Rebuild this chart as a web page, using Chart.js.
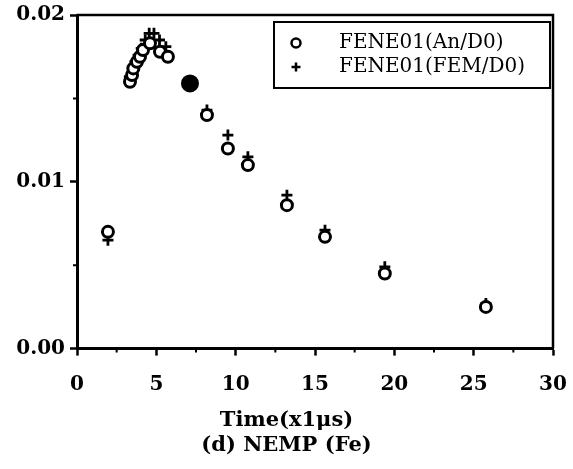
<!DOCTYPE html>
<html>
<head>
<meta charset="utf-8">
<script src="https://cdn.jsdelivr.net/npm/chart.js@4.4.0/dist/chart.umd.min.js"></script>
<style>
  html, body { margin: 0; padding: 0; background: #fff; }
  canvas { display: block; }
</style>
</head>
<body>
<canvas id="chart" width="573" height="469"></canvas>
<script>
// values
const anTime  = [1.95, 3.34, 3.47, 3.55, 3.78, 3.97, 4.16, 4.6, 5.23, 5.73, 7.12, 8.19, 9.51, 10.77, 13.23, 15.63, 19.4, 25.77];
const anValue = [0.0070, 0.0160, 0.0164, 0.0168, 0.0172, 0.0175, 0.0179, 0.0183, 0.0178, 0.0175, 0.0159, 0.0140, 0.0120, 0.0110, 0.0086, 0.0067, 0.0045, 0.0025];
const femTime  = [1.95, 3.3, 3.5, 3.65, 3.85, 4.05, 4.3, 4.55, 4.85, 5.2, 5.6, 7.12, 8.19, 9.51, 10.77, 13.23, 15.63, 19.4, 25.77];
const femValue = [0.0065, 0.0163, 0.0168, 0.0172, 0.0176, 0.0180, 0.0185, 0.0189, 0.0189, 0.0185, 0.0181, 0.0159, 0.0143, 0.0128, 0.0115, 0.0092, 0.0071, 0.0049, 0.0027];
const seriesLabels = ['FENE01(An/D0)', 'FENE01(FEM/D0)'];
const filledIndex = 10; // the one An point printed solid
const xTicks = [0, 5, 10, 15, 20, 25, 30];
const yTicks = [0, 0.01, 0.02];
const xMinor = [2.5, 7.5, 12.5, 17.5, 22.5, 27.5];
const yMinor = [0.005, 0.015];
const captionLines = ['Time(x1\u03bcs)', '(d) NEMP (Fe)'];

const serif = "'DejaVu Serif', serif";

const framePlugin = {
  id: 'frame',
  afterDraw(chart) {
    const { ctx, chartArea: a, scales: { x, y } } = chart;
    ctx.save();
    ctx.strokeStyle = '#000';
    ctx.lineWidth = 2.5;
    ctx.beginPath();
    ctx.moveTo(a.left, a.top);
    ctx.lineTo(a.right, a.top);
    ctx.lineTo(a.right, a.bottom);
    ctx.stroke();

    // minor ticks
    ctx.lineWidth = 2;
    ctx.beginPath();
    xMinor.forEach(v => {
      const px = x.getPixelForValue(v);
      ctx.moveTo(px, a.bottom);
      ctx.lineTo(px, a.bottom + 4);
    });
    yMinor.forEach(v => {
      const py = y.getPixelForValue(v);
      ctx.moveTo(a.left, py);
      ctx.lineTo(a.left - 4, py);
    });
    ctx.stroke();

    // legend box inside the plot
    const bx = a.right - 279, by = a.top + 7, bw = 276, bh = 66;
    ctx.lineWidth = 2;
    ctx.strokeRect(bx, by, bw, bh);
    const rows = [by + 21, by + 45];
    const sx = bx + 22;
    ctx.lineWidth = 2.5;
    ctx.fillStyle = '#fff';
    ctx.beginPath();
    ctx.arc(sx, rows[0], 4.5, 0, Math.PI * 2);
    ctx.fill();
    ctx.stroke();
    ctx.beginPath();
    ctx.moveTo(sx - 4.5, rows[1]); ctx.lineTo(sx + 4.5, rows[1]);
    ctx.moveTo(sx, rows[1] - 4.5); ctx.lineTo(sx, rows[1] + 4.5);
    ctx.stroke();

    ctx.fillStyle = '#000';
    ctx.font = '20px ' + serif;
    ctx.textBaseline = 'middle';
    ctx.textAlign = 'left';
    chart.data.datasets.forEach((ds, i) => {
      ctx.fillText(ds.label, bx + 65, rows[i]);
    });
    ctx.restore();
  }
};

const ctx = document.getElementById('chart').getContext('2d');
const chart = new Chart(ctx, {
  type: 'scatter',
  data: {
    datasets: [
      {
        label: seriesLabels[0],
        data: anTime.map((t, i) => ({ x: t, y: anValue[i] })),
        pointStyle: 'circle',
        pointRadius: c => (c.dataIndex === filledIndex ? 7.5 : 5.5),
        pointBackgroundColor: c => (c.dataIndex === filledIndex ? '#000' : '#fff'),
        pointBorderColor: '#000',
        pointBorderWidth: 3
      },
      {
        label: seriesLabels[1],
        data: femTime.map((t, i) => ({ x: t, y: femValue[i] })),
        pointStyle: 'cross',
        pointRadius: 5.5,
        pointBorderColor: '#000',
        pointBorderWidth: 2.8
      }
    ]
  },
  options: {
    responsive: false,
    animation: false,
    events: [],
    layout: { padding: { top: 15, right: 0, left: 0, bottom: 0 } },
    plugins: {
      legend: { display: false },
      tooltip: { enabled: false },
      title: {
        display: true,
        position: 'bottom',
        text: captionLines,
        color: '#000',
        font: { family: serif, size: 21, weight: 'bold', lineHeight: 1.2 },
        padding: { top: 0, bottom: 11 }
      }
    },
    scales: {
      x: {
        type: 'linear',
        min: 0,
        max: 30,
        afterBuildTicks: s => { s.ticks = xTicks.map(v => ({ value: v })); },
        afterFit: s => { s.height = 59; s.paddingLeft = 0; s.paddingRight = 20; },
        grid: { drawOnChartArea: false, drawTicks: true, tickLength: 7, tickColor: '#000', tickWidth: 2.5 },
        border: { display: true, color: '#000', width: 3 },
        ticks: {
          color: '#000',
          font: { family: serif, size: 20, weight: 'bold' },
          padding: 17,
          maxRotation: 0
        }
      },
      y: {
        type: 'linear',
        min: 0,
        max: 0.02,
        afterBuildTicks: s => { s.ticks = yTicks.map(v => ({ value: v })); },
        afterFit: s => { s.width = 77; s.paddingTop = 0; s.paddingBottom = 0; },
        grid: { drawOnChartArea: false, drawTicks: true, tickLength: 7, tickColor: '#000', tickWidth: 2.5 },
        border: { display: true, color: '#000', width: 3 },
        ticks: {
          color: '#000',
          font: { family: serif, size: 20, weight: 'bold' },
          padding: 5,
          callback: v => v.toFixed(2)
        }
      }
    }
  },
  plugins: [framePlugin]
});
</script>
</body>
</html>
